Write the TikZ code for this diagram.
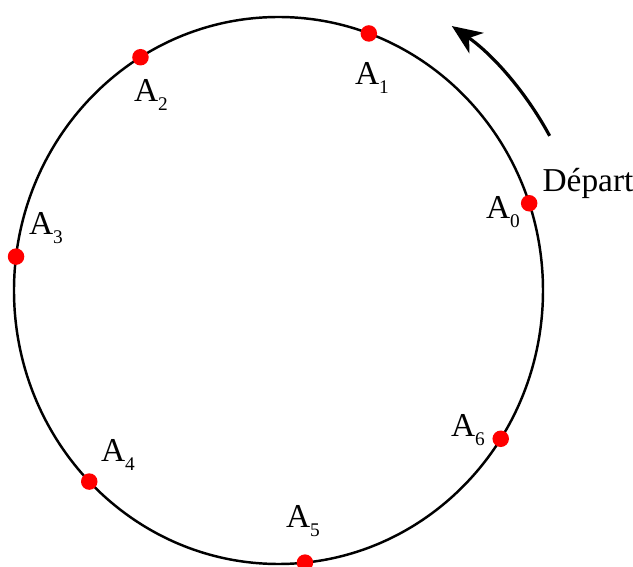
\documentclass[tikz,border=0pt]{standalone}
\usepackage{fontspec}
\setmainfont{Liberation Serif}
\usetikzlibrary{arrows.meta}

\newcommand{\ptA}[1]{A\raisebox{-5.5pt}{\fontsize{11}{11}\selectfont #1}}

\begin{document}
\begin{tikzpicture}[
  pt/.style={circle, fill=red, minimum size=3.3mm, inner sep=0pt},
  lbl/.style={font=\fontsize{19}{21}\selectfont, inner sep=0pt},
  e/.style={-{Stealth[length=6mm, width=5mm, inset=1.8mm]}, line width=1.8pt}]
  \useasboundingbox (-5.57,-5.53) rectangle (7.09,5.81);
  \draw[line width=1.4pt] (0,0) ellipse [x radius=5.29, y radius=5.47];
  % points A_0 ... A_6
  \foreach \k in {0,...,6}
    \node[pt] (p\k) at ({18.6+\k*360/7}:5.29 and 5.47) {};
  \foreach \k/\x/\y in {0/4.49/1.57, 1/1.87/4.25, 2/-2.55/3.91, 3/-4.65/1.25,
                        4/-3.21/-3.29, 5/0.49/-4.61, 6/3.79/-2.79}
    \node[lbl] (l\k) at (\x,\y) {\ptA{\k}};
  \coordinate (s) at (29:6.2 and 6.38);
  \draw[e] (s) arc [start angle=29, end angle=56, x radius=6.2, y radius=6.38];
  \node[lbl] (dep) at (6.19,2.15) {Départ};
\end{tikzpicture}
\end{document}
